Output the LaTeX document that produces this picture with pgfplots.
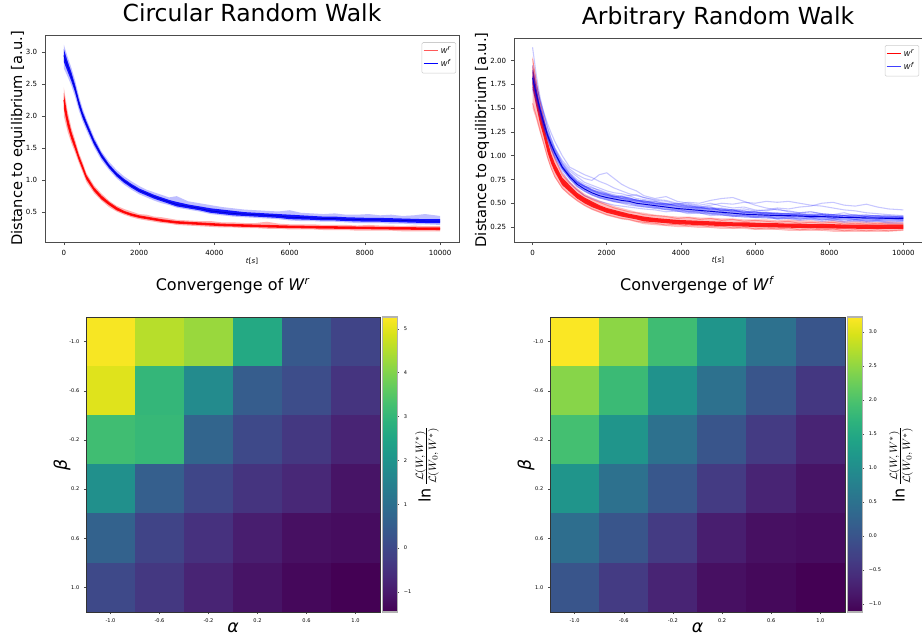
\documentclass[border=0pt]{standalone}
\usepackage{fontspec}
\setmainfont{DejaVu Sans}
\usepackage{pgfplots}
\usepackage{pgfplotstable}
\pgfplotsset{compat=1.18}
\usepgfplotslibrary{fillbetween}

% circular random walk: blue (W^f) and red (W^r) band, mean, inner/outer envelope
\pgfplotstableread{
t bm bil bih bol boh rm ril rih rol roh
0 2.95 2.85 3.05 2.75 3.12 2.25 2.12 2.36 2.00 2.45
100 2.78 2.70 2.86 2.62 2.93 1.92 1.84 2.00 1.76 2.08
200 2.62 2.55 2.69 2.48 2.76 1.70 1.64 1.76 1.58 1.82
300 2.43 2.37 2.49 2.30 2.56 1.53 1.48 1.58 1.43 1.63
400 2.20 2.15 2.26 2.09 2.32 1.35 1.31 1.39 1.27 1.43
500 2.02 1.97 2.07 1.92 2.12 1.20 1.16 1.24 1.12 1.28
600 1.87 1.83 1.92 1.78 1.96 1.04 1.01 1.08 0.97 1.11
800 1.60 1.56 1.64 1.52 1.68 0.86 0.83 0.89 0.80 0.92
1000 1.38 1.35 1.42 1.31 1.45 0.73 0.70 0.76 0.68 0.79
1200 1.22 1.19 1.25 1.16 1.29 0.63 0.61 0.66 0.58 0.68
1400 1.09 1.06 1.12 1.03 1.16 0.55 0.53 0.58 0.51 0.60
1600 0.99 0.96 1.02 0.93 1.06 0.50 0.48 0.52 0.46 0.55
1800 0.91 0.88 0.94 0.85 0.98 0.46 0.44 0.48 0.42 0.51
2000 0.84 0.81 0.87 0.78 0.91 0.43 0.41 0.45 0.39 0.47
2200 0.79 0.76 0.82 0.73 0.85 0.41 0.39 0.43 0.37 0.46
2400 0.74 0.71 0.77 0.68 0.81 0.39 0.37 0.41 0.35 0.43
2600 0.70 0.67 0.73 0.64 0.77 0.37 0.35 0.39 0.33 0.42
2800 0.66 0.63 0.69 0.61 0.73 0.355 0.335 0.375 0.32 0.40
3000 0.62 0.59 0.66 0.57 0.75 0.34 0.32 0.36 0.30 0.38
3300 0.59 0.56 0.62 0.54 0.67 0.33 0.31 0.35 0.29 0.37
3600 0.56 0.53 0.59 0.51 0.64 0.32 0.30 0.34 0.28 0.36
3900 0.52 0.49 0.56 0.47 0.61 0.31 0.29 0.33 0.27 0.36
4200 0.50 0.47 0.54 0.45 0.58 0.30 0.28 0.32 0.26 0.34
4500 0.48 0.45 0.52 0.43 0.56 0.295 0.275 0.315 0.26 0.34
4800 0.47 0.44 0.50 0.42 0.54 0.29 0.27 0.31 0.25 0.33
5100 0.46 0.43 0.49 0.41 0.53 0.285 0.265 0.305 0.25 0.33
5400 0.45 0.42 0.48 0.40 0.52 0.28 0.26 0.30 0.24 0.35
5700 0.44 0.41 0.47 0.39 0.51 0.275 0.255 0.295 0.24 0.32
6000 0.42 0.39 0.46 0.37 0.53 0.27 0.25 0.29 0.23 0.31
6300 0.415 0.385 0.45 0.36 0.49 0.268 0.248 0.288 0.23 0.31
6600 0.41 0.38 0.44 0.36 0.48 0.265 0.245 0.285 0.23 0.31
6900 0.40 0.37 0.43 0.35 0.47 0.262 0.242 0.282 0.22 0.30
7200 0.40 0.37 0.43 0.35 0.48 0.26 0.24 0.28 0.22 0.30
7500 0.39 0.36 0.42 0.34 0.46 0.257 0.237 0.277 0.22 0.30
7800 0.385 0.355 0.415 0.33 0.46 0.255 0.235 0.275 0.21 0.29
8100 0.38 0.35 0.41 0.33 0.47 0.253 0.233 0.273 0.21 0.30
8400 0.38 0.35 0.41 0.33 0.45 0.25 0.23 0.27 0.21 0.29
8700 0.375 0.345 0.405 0.32 0.46 0.248 0.228 0.268 0.21 0.29
9000 0.37 0.34 0.40 0.32 0.44 0.246 0.226 0.266 0.20 0.28
9300 0.365 0.335 0.395 0.31 0.45 0.244 0.224 0.264 0.20 0.29
9600 0.36 0.33 0.39 0.31 0.47 0.242 0.222 0.262 0.20 0.28
10000 0.36 0.33 0.39 0.30 0.44 0.24 0.22 0.26 0.20 0.28
}\tabC

% arbitrary random walk, blue: mean, core band, single runs
\pgfplotstableread{
t bm bil bih b1 b2 b3 b4 b5 b6 b7 b8 b9 b10
0 1.82 1.76 1.90 1.95 1.78 1.88 1.72 1.76 2.14 1.90 1.70 1.84 1.80
100 1.65 1.60 1.71 1.75 1.62 1.70 1.58 1.60 1.85 1.74 1.55 1.67 1.64
200 1.49 1.45 1.54 1.58 1.47 1.53 1.44 1.45 1.62 1.59 1.41 1.51 1.50
300 1.35 1.31 1.39 1.44 1.33 1.39 1.31 1.31 1.45 1.46 1.28 1.37 1.36
400 1.22 1.18 1.26 1.30 1.21 1.26 1.20 1.18 1.30 1.34 1.17 1.24 1.23
500 1.12 1.08 1.16 1.18 1.10 1.15 1.10 1.07 1.18 1.24 1.07 1.13 1.12
600 1.03 0.99 1.07 1.08 1.02 1.06 1.02 0.98 1.08 1.15 0.99 1.04 1.03
800 0.88 0.85 0.92 0.95 0.89 0.92 0.88 0.83 0.93 1.00 0.86 0.89 0.87
1000 0.78 0.75 0.82 0.86 0.80 0.82 0.78 0.72 0.84 0.88 0.76 0.79 0.77
1200 0.70 0.67 0.74 0.80 0.73 0.75 0.72 0.64 0.78 0.84 0.68 0.72 0.71
1400 0.65 0.62 0.69 0.76 0.68 0.70 0.68 0.58 0.72 0.80 0.63 0.67 0.68
1600 0.61 0.58 0.65 0.74 0.64 0.67 0.66 0.55 0.69 0.77 0.59 0.63 0.64
1800 0.58 0.55 0.62 0.80 0.62 0.63 0.64 0.52 0.66 0.73 0.56 0.61 0.60
2000 0.56 0.53 0.60 0.82 0.60 0.60 0.61 0.50 0.63 0.70 0.54 0.58 0.59
2200 0.545 0.51 0.58 0.76 0.57 0.58 0.59 0.48 0.61 0.66 0.52 0.57 0.56
2400 0.53 0.50 0.57 0.70 0.58 0.55 0.57 0.47 0.60 0.63 0.50 0.55 0.57
2600 0.52 0.49 0.56 0.66 0.55 0.56 0.58 0.46 0.58 0.60 0.48 0.53 0.54
2800 0.50 0.47 0.54 0.63 0.53 0.53 0.55 0.45 0.59 0.58 0.47 0.54 0.52
3000 0.49 0.46 0.53 0.58 0.52 0.51 0.54 0.44 0.56 0.56 0.46 0.51 0.53
3300 0.475 0.44 0.51 0.55 0.50 0.52 0.52 0.43 0.54 0.53 0.46 0.49 0.50
3600 0.46 0.43 0.50 0.57 0.48 0.49 0.50 0.41 0.53 0.52 0.43 0.50 0.48
3900 0.445 0.41 0.48 0.52 0.50 0.47 0.49 0.42 0.50 0.49 0.44 0.47 0.49
4200 0.435 0.40 0.47 0.50 0.47 0.48 0.51 0.39 0.49 0.48 0.41 0.45 0.46
4500 0.425 0.39 0.46 0.48 0.46 0.46 0.50 0.40 0.47 0.45 0.42 0.46 0.44
4800 0.415 0.38 0.45 0.50 0.48 0.44 0.53 0.37 0.46 0.46 0.39 0.43 0.45
5100 0.405 0.37 0.44 0.47 0.50 0.45 0.55 0.38 0.44 0.42 0.40 0.44 0.42
5400 0.395 0.36 0.43 0.45 0.49 0.43 0.56 0.36 0.43 0.43 0.37 0.41 0.43
5700 0.385 0.35 0.42 0.46 0.51 0.44 0.52 0.37 0.42 0.40 0.38 0.42 0.40
6000 0.38 0.345 0.41 0.43 0.50 0.42 0.48 0.35 0.41 0.41 0.36 0.39 0.41
6300 0.375 0.34 0.41 0.42 0.52 0.43 0.45 0.36 0.40 0.38 0.37 0.40 0.39
6600 0.37 0.335 0.40 0.44 0.51 0.45 0.43 0.33 0.39 0.39 0.34 0.38 0.40
6900 0.37 0.335 0.40 0.41 0.52 0.44 0.42 0.34 0.39 0.36 0.36 0.39 0.38
7200 0.365 0.33 0.395 0.40 0.50 0.46 0.40 0.32 0.38 0.37 0.33 0.37 0.39
7500 0.36 0.33 0.39 0.41 0.48 0.47 0.41 0.33 0.37 0.35 0.35 0.38 0.37
7800 0.36 0.325 0.39 0.39 0.47 0.50 0.39 0.31 0.38 0.36 0.32 0.36 0.38
8100 0.355 0.32 0.385 0.38 0.45 0.51 0.38 0.32 0.36 0.34 0.34 0.37 0.36
8400 0.35 0.32 0.38 0.40 0.43 0.48 0.37 0.30 0.37 0.35 0.31 0.35 0.37
8700 0.35 0.315 0.38 0.37 0.42 0.47 0.38 0.31 0.35 0.33 0.33 0.36 0.35
9000 0.345 0.31 0.375 0.38 0.40 0.49 0.36 0.30 0.36 0.34 0.31 0.34 0.36
9300 0.345 0.31 0.375 0.36 0.39 0.46 0.37 0.31 0.34 0.33 0.32 0.35 0.34
9600 0.34 0.31 0.37 0.37 0.38 0.44 0.35 0.29 0.35 0.34 0.30 0.34 0.36
10000 0.34 0.31 0.37 0.35 0.37 0.43 0.36 0.29 0.33 0.32 0.31 0.35 0.35
}\tabAB

% arbitrary random walk, red
\pgfplotstableread{
t rm ril rih rol roh r1 r2 r3
0 1.85 1.72 1.95 1.50 2.05 2.02 1.55 1.78
100 1.62 1.52 1.72 1.38 1.82 1.78 1.42 1.58
200 1.42 1.34 1.50 1.24 1.59 1.57 1.27 1.40
300 1.27 1.20 1.34 1.11 1.42 1.40 1.13 1.25
400 1.10 1.04 1.16 0.97 1.24 1.22 0.99 1.09
500 0.97 0.92 1.02 0.86 1.09 1.08 0.87 0.96
600 0.87 0.83 0.92 0.77 0.98 0.97 0.78 0.86
800 0.73 0.69 0.77 0.65 0.82 0.80 0.66 0.73
1000 0.65 0.62 0.69 0.58 0.73 0.71 0.59 0.64
1200 0.58 0.55 0.61 0.52 0.66 0.64 0.53 0.58
1400 0.53 0.50 0.56 0.47 0.60 0.58 0.48 0.54
1600 0.49 0.46 0.52 0.43 0.56 0.54 0.44 0.49
1800 0.45 0.43 0.48 0.40 0.53 0.51 0.41 0.46
2000 0.42 0.40 0.45 0.37 0.50 0.48 0.38 0.43
2200 0.40 0.38 0.43 0.35 0.47 0.45 0.36 0.41
2400 0.38 0.36 0.41 0.33 0.45 0.43 0.34 0.39
2600 0.365 0.345 0.39 0.32 0.43 0.41 0.33 0.37
2800 0.35 0.33 0.375 0.30 0.41 0.40 0.31 0.36
3000 0.33 0.31 0.36 0.28 0.40 0.38 0.30 0.34
3300 0.32 0.30 0.345 0.27 0.38 0.37 0.29 0.33
3600 0.31 0.29 0.335 0.26 0.37 0.36 0.27 0.31
3900 0.30 0.28 0.325 0.25 0.36 0.34 0.28 0.32
4200 0.295 0.275 0.32 0.25 0.36 0.35 0.26 0.29
4500 0.29 0.27 0.315 0.24 0.35 0.33 0.27 0.30
4800 0.285 0.265 0.31 0.24 0.35 0.34 0.25 0.28
5100 0.28 0.26 0.305 0.23 0.34 0.32 0.26 0.29
5400 0.278 0.258 0.30 0.23 0.34 0.33 0.24 0.27
5700 0.275 0.255 0.30 0.23 0.33 0.31 0.25 0.28
6000 0.27 0.25 0.295 0.22 0.33 0.32 0.23 0.26
6300 0.268 0.248 0.29 0.22 0.33 0.31 0.24 0.27
6600 0.265 0.245 0.29 0.22 0.32 0.30 0.23 0.26
6900 0.263 0.243 0.285 0.21 0.33 0.31 0.24 0.27
7200 0.26 0.24 0.285 0.21 0.32 0.29 0.22 0.25
7500 0.258 0.238 0.28 0.21 0.32 0.30 0.23 0.26
7800 0.256 0.236 0.28 0.21 0.31 0.29 0.22 0.25
8100 0.255 0.235 0.28 0.20 0.32 0.30 0.23 0.26
8400 0.253 0.233 0.275 0.20 0.31 0.28 0.21 0.24
8700 0.252 0.232 0.275 0.20 0.31 0.29 0.22 0.25
9000 0.25 0.23 0.275 0.20 0.31 0.28 0.21 0.24
9300 0.25 0.23 0.275 0.20 0.30 0.29 0.22 0.25
9600 0.25 0.23 0.275 0.20 0.31 0.28 0.21 0.24
10000 0.25 0.23 0.275 0.21 0.30 0.28 0.22 0.25
}\tabAR

\pgfplotsset{
  topax/.style={
    scale only axis, anchor=south west,
    xmin=-500, xmax=10500, xtick={0,2000,4000,6000,8000,10000},
    scaled x ticks=false,
    /pgf/number format/assume math mode=true,
    /pgf/number format/1000 sep={},
    ticklabel style={font=\fontsize{5.3}{6}\selectfont},
    axis line style={black!70, line width=0.5pt},
    tick style={black!70, line width=0.4pt},
    tick align=outside, major tick length=2.3pt, tick pos=left,
    title style={at={(axis description cs:0.5,1)}, anchor=base, yshift=3.75pt,
      font=\fontsize{17.6}{20}\selectfont},
    xlabel={\textit{t}[\textit{s}]},
    xlabel style={at={(axis description cs:0.5,-0.092)}, anchor=center,
      font=\fontsize{5.3}{6}\selectfont},
    ylabel={Distance to equilibrium [a.u.]},
    ylabel style={anchor=center, font=\fontsize{11}{13}\selectfont},
    legend style={at={(0.993,0.965)}, anchor=north east, draw=black!20,
      rounded corners=1pt, font=\fontsize{5}{6}\selectfont, inner sep=1.2pt,
      row sep=-1pt},
    legend cell align=left,
  },
  % legend sample: a coloured rule
  legline/.style={legend image code/.code={%
    \node[inner sep=0pt, anchor=west] at (0pt,0pt)
      {\textcolor{#1}{\rule[-0.45pt]{11pt}{0.9pt}}};}},
  heat/.style={
    scale only axis, anchor=south west, height=221.25pt,
    xmin=-1.2, xmax=1.2, ymin=-1.2, ymax=1.2, y dir=reverse,
    enlargelimits=false, axis on top,
    xtick={-1,-0.6,-0.2,0.2,0.6,1}, ytick={-1,-0.6,-0.2,0.2,0.6,1},
    xticklabels={-1.0,-0.6,-0.2,0.2,0.6,1.0},
    yticklabels={-1.0,-0.6,-0.2,0.2,0.6,1.0},
    ticklabel style={font=\fontsize{3.8}{4}\selectfont},
    axis line style={black!80, line width=0.5pt},
    tick style={black!70, line width=0.3pt},
    tick align=outside, major tick length=1.5pt, tick pos=left,
    colormap/viridis,
    title style={at={(axis description cs:0.5,1)}, anchor=base, yshift=13.75pt,
      font=\fontsize{12}{14}\selectfont},
    xlabel={\textit{α}}, ylabel={\textit{β}},
    xlabel style={at={(axis description cs:0.5,0)}, anchor=base, yshift=-15pt,
      font=\fontsize{13}{15}\selectfont},
    ylabel style={at={(axis description cs:-0.0816,0.5)}, anchor=center,
      font=\fontsize{13}{15}\selectfont},
  },
  cbar/.style={
    at={(parent axis.north east)}, anchor=north west, xshift=-7pt,
    scale only axis, width=11.25pt, height=221.25pt,
    axis line style={black!30, line width=0.8pt},
    yticklabel style={font=\fontsize{3.8}{4}\selectfont},
    ytick style={black!70, line width=0.3pt},
    tick align=outside, major tick length=1.5pt, ytick pos=right,
    ylabel={ln\,$\frac{\mathcal{L}(W,\,W^*)}{\mathcal{L}(W_0,\,W^*)}$},
    ylabel style={anchor=center, font=\fontsize{12}{14}\selectfont},
  },
}

\begin{document}
\begin{tikzpicture}

% ---------- circular random walk ----------
\begin{axis}[topax, at={(33.75pt,295.5pt)}, width=310.5pt, height=155.25pt,
  ymin=0.033, ymax=3.27, ytick={0.5,1,1.5,2,2.5,3},
  yticklabel style={/pgf/number format/.cd, fixed, fixed zerofill, precision=1},
  title={Circular Random Walk},
  ylabel style={at={(axis description cs:-0.0652,0.5)}},
]
\addplot[draw=none, name path=rlo, forget plot] table[x=t,y=rol]{\tabC};
\addplot[draw=none, name path=rhi, forget plot] table[x=t,y=roh]{\tabC};
\addplot[draw=none, name path=rli, forget plot] table[x=t,y=ril]{\tabC};
\addplot[draw=none, name path=rhj, forget plot] table[x=t,y=rih]{\tabC};
\addplot[fill=red, fill opacity=0.3, draw=none, forget plot] fill between[of=rlo and rhi];
\addplot[fill=red, fill opacity=0.9, draw=none, forget plot] fill between[of=rli and rhj];
\addplot[draw=red, line width=0.6pt, forget plot] table[x=t,y=rm]{\tabC};
\addplot[draw=none, name path=blo, forget plot] table[x=t,y=bol]{\tabC};
\addplot[draw=none, name path=bhi, forget plot] table[x=t,y=boh]{\tabC};
\addplot[draw=none, name path=bli, forget plot] table[x=t,y=bil]{\tabC};
\addplot[draw=none, name path=bhj, forget plot] table[x=t,y=bih]{\tabC};
\addplot[fill=blue, fill opacity=0.25, draw=none, forget plot] fill between[of=blo and bhi];
\addplot[fill=blue, fill opacity=0.9, draw=none, forget plot] fill between[of=bli and bhj];
\addplot[draw=blue!80!black, line width=0.5pt, forget plot] table[x=t,y=bm]{\tabC};
\addlegendimage{legline=red!65}
\addlegendentry{\textit{W}\textsuperscript{\textit{r}}}
\addlegendimage{legline=blue!99}
\addlegendentry{\textit{W}\textsuperscript{\textit{f}}}
\end{axis}

% ---------- arbitrary random walk ----------
\begin{axis}[topax, at={(385.5pt,295.5pt)}, width=306pt, height=153pt,
  ymin=0.0925, ymax=2.2375, ytick={0.25,0.5,0.75,1,1.25,1.5,1.75,2},
  yticklabel style={/pgf/number format/.cd, fixed, fixed zerofill, precision=2},
  title={Arbitrary Random Walk},
  ylabel style={at={(axis description cs:-0.0784,0.5)}},
]
\addplot[draw=none, name path=rlo, forget plot] table[x=t,y=rol]{\tabAR};
\addplot[draw=none, name path=rhi, forget plot] table[x=t,y=roh]{\tabAR};
\addplot[draw=none, name path=rli, forget plot] table[x=t,y=ril]{\tabAR};
\addplot[draw=none, name path=rhj, forget plot] table[x=t,y=rih]{\tabAR};
\addplot[fill=red, fill opacity=0.25, draw=none, forget plot] fill between[of=rlo and rhi];
\pgfplotsinvokeforeach{1,2,3}{
  \addplot[draw=red, opacity=0.3, line width=0.7pt, forget plot] table[x=t,y=r#1]{\tabAR};
}
\addplot[fill=red, fill opacity=0.85, draw=none, forget plot] fill between[of=rli and rhj];
\pgfplotsinvokeforeach{1,2,3,4,5,6,7,8,9,10}{
  \addplot[draw=blue, opacity=0.22, line width=0.8pt, forget plot] table[x=t,y=b#1]{\tabAB};
}
\addplot[draw=none, name path=bli, forget plot] table[x=t,y=bil]{\tabAB};
\addplot[draw=none, name path=bhj, forget plot] table[x=t,y=bih]{\tabAB};
\addplot[fill=blue, fill opacity=0.35, draw=none, forget plot] fill between[of=bli and bhj];
\addplot[draw=blue!85!black, line width=0.7pt, forget plot] table[x=t,y=bm]{\tabAB};
\addlegendimage{legline=red!99}
\addlegendentry{\textit{W}\textsuperscript{\textit{r}}}
\addlegendimage{legline=blue!75}
\addlegendentry{\textit{W}\textsuperscript{\textit{f}}}
\end{axis}

% ---------- convergence heatmaps ----------
\begin{axis}[heat, at={(64.5pt,18pt)}, width=220.5pt,
  point meta min=-1.46, point meta max=5.27,
  title={Convergenge of \textit{W}\textsuperscript{\textit{r}}},
  colorbar, colorbar style={cbar,
    ytick={-1,0,1,2,3,4,5}, yticklabels={−1,0,1,2,3,4,5},
    ylabel style={at={(axis description cs:3.0,0.5)}}},
]
\addplot[matrix plot*, mesh/cols=6, point meta=explicit] table[meta=c]{
x y c
-1 -1 5.20
-0.6 -1 4.55
-0.2 -1 4.25
0.2 -1 2.60
0.6 -1 0.40
1 -1 -0.10
-1 -0.6 4.95
-0.6 -0.6 3.00
-0.2 -0.6 1.75
0.2 -0.6 0.50
0.6 -0.6 0.10
1 -0.6 -0.45
-1 -0.2 3.20
-0.6 -0.2 3.05
-0.2 -0.2 0.70
0.2 -0.2 0.02
0.6 -0.2 -0.38
1 -0.2 -0.79
-1 0.2 1.90
-0.6 0.2 0.56
-0.2 0.2 -0.05
0.2 0.2 -0.45
0.6 0.2 -0.72
1 0.2 -1.12
-1 0.6 0.63
-0.6 0.6 -0.11
-0.2 0.6 -0.52
0.2 0.6 -0.92
0.6 0.6 -1.19
1 0.6 -1.26
-1 1 0.02
-0.6 1 -0.38
-0.2 1 -0.79
0.2 1 -1.12
0.6 1 -1.33
1 1 -1.46
};
\end{axis}

\begin{axis}[heat, at={(412.5pt,18pt)}, width=221.25pt,
  point meta min=-1.12, point meta max=3.22,
  title={Convergenge of \textit{W}\textsuperscript{\textit{f}}},
  colorbar, colorbar style={cbar,
    ytick={-1,-0.5,0,0.5,1,1.5,2,2.5,3},
    yticklabels={−1.0,−0.5,0.0,0.5,1.0,1.5,2.0,2.5,3.0},
    ylabel style={at={(axis description cs:3.6,0.5)}}},
]
\addplot[matrix plot*, mesh/cols=6, point meta=explicit] table[meta=c]{
x y c
-1 -1 3.20
-0.6 -1 2.48
-0.2 -1 1.87
0.2 -1 1.14
0.6 -1 0.49
1 -1 0.01
-1 -0.6 2.44
-0.6 -0.6 1.83
-0.2 -0.6 1.09
0.2 -0.6 0.49
0.6 -0.6 0.01
1 -0.6 -0.43
-1 -0.2 1.92
-0.6 -0.2 1.14
-0.2 -0.2 0.49
0.2 -0.2 0.01
0.6 -0.2 -0.38
1 -0.2 -0.69
-1 0.2 1.14
-0.6 0.2 0.49
-0.2 0.2 0.05
0.2 0.2 -0.38
0.6 0.2 -0.69
1 0.2 -0.90
-1 0.6 0.44
-0.6 0.6 0.01
-0.2 0.6 -0.38
0.2 0.6 -0.77
0.6 0.6 -0.95
1 0.6 -0.99
-1 1 0.01
-0.6 1 -0.38
-0.2 1 -0.69
0.2 1 -0.95
0.6 1 -1.03
1 1 -1.12
};
\end{axis}

\pgfresetboundingbox
\useasboundingbox (0,0) rectangle (691.5pt,477pt);
\end{tikzpicture}
\end{document}
